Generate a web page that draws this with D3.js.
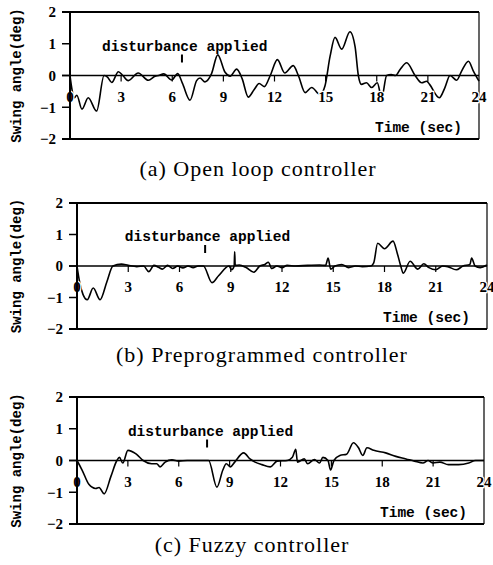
<!DOCTYPE html>
<html>
<head>
<meta charset="utf-8">
<script src="https://cdn.jsdelivr.net/npm/d3@7"></script>
<style>
  body { margin: 0; background: #fff; }
  .mono { font-family: "Liberation Mono", "DejaVu Sans Mono", monospace; font-weight: bold; }
  .num { font-family: "Liberation Serif", serif; font-weight: bold; }
  .cap { font-family: "Liberation Serif", serif; }
</style>
</head>
<body>
<svg id="chart" width="493" height="565"></svg>
<script>
// time (sec) and swing angle (deg)
const timeA = [0, 0.12, 0.25, 0.4, 0.7, 1.07, 1.56, 2.0, 2.2, 2.45, 2.84, 3.1, 3.42, 4.0, 4.6, 5.0, 5.2, 5.5, 5.97, 6.32, 6.6, 7.04, 7.43, 7.63, 7.92, 8.3, 8.67, 9.1, 9.4, 9.78, 10.1, 10.46, 10.8, 11.1, 11.4, 11.75, 12.17, 12.6, 13.1, 13.4, 13.8, 14.18, 14.67, 14.96, 15.26, 15.55, 15.94, 16.43, 16.73, 16.92, 17.1, 17.4, 17.7, 18.03, 18.29, 18.58, 18.85, 19.1, 19.37, 19.76, 20.25, 20.64, 20.93, 21.1, 21.67, 22.0, 22.3, 22.69, 22.98, 23.38, 23.67, 24];
const angleA = [0, -0.45, -0.7, -0.62, -1.06, -0.7, -1.12, 0, -0.05, -0.22, 0.12, 0, -0.16, 0.08, -0.15, -0.02, 0, 0.05, -0.14, 0.06, -0.25, -0.78, -0.16, -0.08, -0.2, 0.05, 0.65, 0.1, -0.02, 0.2, -0.1, -0.68, -0.45, -0.25, -0.35, 0, 0.5, 0.08, 0.31, 0, -0.54, -0.38, -0.6, -0.33, 0.6, 1.2, 0.83, 1.38, 0.9, 0, -0.28, -0.23, -0.38, -0.23, -0.7, 0, 0.03, 0, 0.19, 0.4, 0, -0.23, -0.18, -0.28, -0.7, -0.38, 0, -0.15, 0.14, 0.45, 0.14, -0.18];

const timeB = [0, 0.15, 0.35, 0.6, 0.95, 1.35, 1.75, 2.1, 2.6, 3.0, 3.5, 3.9, 4.2, 4.5, 4.8, 5.0, 5.3, 5.6, 5.9, 6.2, 6.5, 6.8, 7.1, 7.4, 7.9, 8.3, 8.9, 9.05, 9.2, 9.23, 9.26, 9.5, 9.9, 10.35, 10.7, 11.0, 11.2, 11.4, 11.7, 12.0, 12.3, 12.8, 13.5, 14.2, 14.55, 14.7, 14.85, 15.1, 15.5, 15.9, 16.3, 16.7, 17.2, 17.37, 17.6, 18.0, 18.5, 18.75, 18.95, 19.1, 19.5, 19.95, 20.3, 20.6, 21.0, 21.4, 21.7, 22.2, 22.6, 23.0, 23.1, 23.3, 23.6, 24];
const angleB = [0, -0.5, -0.9, -1.07, -0.7, -1.07, -0.5, 0, 0.06, 0.02, -0.02, 0, -0.18, 0.02, -0.05, -0.1, 0.02, -0.08, 0, -0.06, 0, -0.05, 0, 0, -0.53, -0.3, 0, -0.12, 0, 0.45, 0.02, 0.03, -0.05, -0.2, 0, 0.05, 0.12, -0.08, 0, -0.05, 0.02, 0, 0.02, 0.03, 0.02, 0.25, -0.1, 0, 0.05, -0.05, 0, -0.02, 0, 0.1, 0.72, 0.55, 0.79, 0.4, 0, -0.23, 0.15, -0.1, 0.07, -0.05, -0.12, 0, -0.02, -0.12, 0, 0.05, 0.25, 0, -0.05, 0.03];

const timeC = [0, 0.3, 0.7, 1.1, 1.3, 1.6, 2.0, 2.35, 2.5, 2.7, 3.0, 3.5, 3.9, 4.4, 4.7, 4.9, 5.2, 5.6, 6.0, 6.5, 7.0, 7.76, 8.25, 8.6, 8.8, 9.05, 9.3, 9.83, 10.2, 10.5, 10.9, 11.4, 11.8, 12.4, 12.7, 12.9, 13.0, 13.4, 13.6, 14.0, 14.3, 14.5, 14.8, 14.95, 15.15, 15.5, 15.9, 16.3, 16.6, 16.85, 17.1, 17.5, 18.2, 18.8, 19.4, 19.9, 20.4, 20.7, 21.0, 21.4, 21.9, 22.5, 23.1, 23.5, 24];
const angleC = [0, -0.3, -0.75, -0.88, -0.85, -1.05, -0.5, 0, 0.1, -0.08, 0.32, 0.2, 0, -0.1, -0.1, -0.2, -0.05, 0.02, -0.02, 0, 0, 0, -0.84, -0.3, -0.1, -0.2, -0.05, 0.24, 0.05, -0.05, -0.13, -0.2, -0.02, 0, 0.1, 0.35, -0.05, 0.05, -0.1, 0.03, -0.08, 0.1, 0, -0.3, 0, 0.16, 0.2, 0.56, 0.4, 0.16, 0.4, 0.32, 0.24, 0.13, 0.05, -0.02, -0.08, 0, -0.08, -0.05, -0.13, -0.13, -0.08, 0, 0];

const xTicks = [0, 3, 6, 9, 12, 15, 18, 21, 24];
const yTicks = [2, 1, 0, -1, -2];
const captions = ["(a) Open loop controller", "(b) Preprogrammed controller", "(c) Fuzzy controller"];
const disturbanceAt = [6.57, 7.5, 7.67];
const labelAt = [1.88, 2.8, 3.0];

// panel boxes in page pixels
const panels = [
  { t: timeA, v: angleA, left: 70, right: 479, top: 12, bottom: 139, capX: 258, capY: 176 },
  { t: timeB, v: angleB, left: 77, right: 487, top: 203, bottom: 329, capX: 262, capY: 362 },
  { t: timeC, v: angleC, left: 77, right: 484, top: 397, bottom: 524, capX: 252, capY: 552 }
];

const svg = d3.select("#chart");

panels.forEach((p, i) => {
  const x = d3.scaleLinear().domain([0, 24]).range([p.left, p.right]);
  const y = d3.scaleLinear().domain([-2, 2]).range([p.bottom, p.top]);
  const g = svg.append("g");
  const y0 = y(0);

  // frame: top and bottom heavy, right side thin
  g.append("line").attr("x1", p.left - 8).attr("x2", p.right).attr("y1", p.top).attr("y2", p.top)
    .attr("stroke", "#000").attr("stroke-width", 2);
  g.append("line").attr("x1", p.left - 8).attr("x2", p.right).attr("y1", p.bottom).attr("y2", p.bottom)
    .attr("stroke", "#000").attr("stroke-width", 2);
  g.append("line").attr("x1", p.right).attr("x2", p.right).attr("y1", p.top).attr("y2", p.bottom)
    .attr("stroke", "#000").attr("stroke-width", 1.2);

  // y ticks and labels
  g.selectAll(".ytick").data(yTicks).enter().append("line")
    .attr("x1", p.left - 8).attr("x2", p.left).attr("y1", d => y(d)).attr("y2", d => y(d))
    .attr("stroke", "#000").attr("stroke-width", 1.5);
  g.selectAll(".ylab").data(yTicks).enter().append("text")
    .attr("class", "num").attr("font-size", 15)
    .attr("x", p.left - 14).attr("y", d => y(d)).attr("dy", "0.35em")
    .attr("text-anchor", "end")
    .text(d => d < 0 ? "\u2212" + (-d) : d);

  // zero line with time ticks
  g.append("line").attr("x1", p.left - 8).attr("x2", p.right).attr("y1", y0).attr("y2", y0)
    .attr("stroke", "#000").attr("stroke-width", 1.5);
  g.selectAll(".xtick").data(xTicks.slice(1, -1)).enter().append("line")
    .attr("x1", d => x(d)).attr("x2", d => x(d)).attr("y1", y0).attr("y2", y0 + 6)
    .attr("stroke", "#000").attr("stroke-width", 1.2);

  // trace
  const line = d3.line().x(d => x(d[0])).y(d => y(d[1])).curve(d3.curveMonotoneX);
  g.append("path").datum(d3.zip(p.t, p.v))
    .attr("d", line).attr("fill", "none").attr("stroke", "#000").attr("stroke-width", 1.6);

  // time labels sit on top of the trace, the "0" keeps a small white halo
  g.selectAll(".xlab").data(xTicks).enter().append("text")
    .attr("class", "num").attr("font-size", 15)
    .attr("x", d => x(d)).attr("y", y0 + 21).attr("dy", "0.35em")
    .attr("text-anchor", "middle")
    .attr("stroke", "#fff").attr("stroke-width", 2.5).attr("paint-order", "stroke")
    .text(d => d);

  // left axis over the labels
  g.append("line").attr("x1", p.left).attr("x2", p.left).attr("y1", p.top - 1).attr("y2", p.bottom + 1)
    .attr("stroke", "#000").attr("stroke-width", 2);

  // annotations
  g.append("text").attr("class", "mono").attr("font-size", 14.5)
    .attr("x", x(labelAt[i])).attr("y", y0 - 30).attr("dy", "0.35em")
    .text("disturbance applied");
  g.append("line").attr("x1", x(disturbanceAt[i])).attr("x2", x(disturbanceAt[i]))
    .attr("y1", y0 - 21).attr("y2", y0 - 13).attr("stroke", "#000").attr("stroke-width", 2);
  g.append("text").attr("class", "mono").attr("font-size", 14.5)
    .attr("x", p.right - 17).attr("y", y0 + 51).attr("dy", "0.35em")
    .attr("text-anchor", "end")
    .text("Time (sec)");

  g.append("text").attr("class", "mono").attr("font-size", 14)
    .attr("transform", `translate(16,${(p.top + p.bottom) / 2}) rotate(-90)`)
    .attr("text-anchor", "middle").attr("dy", "0.35em")
    .text("Swing angle(deg)");

  g.append("text").attr("class", "cap").attr("font-size", 22).attr("letter-spacing", 1)
    .attr("x", p.capX).attr("y", p.capY).attr("text-anchor", "middle")
    .text(captions[i]);
});
</script>
</body>
</html>
